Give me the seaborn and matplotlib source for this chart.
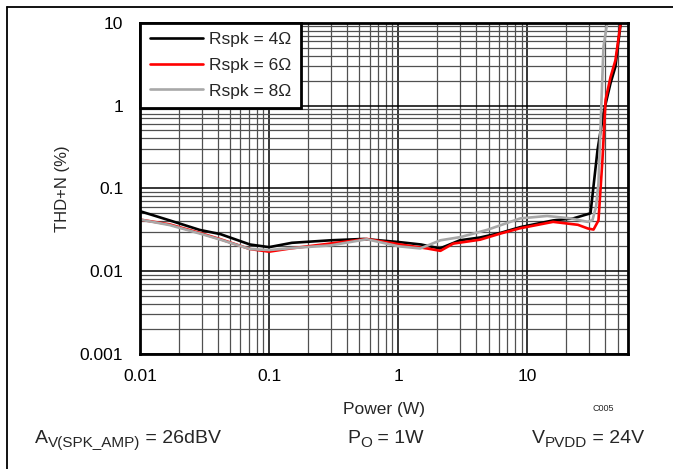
import numpy as np
import pandas as pd
import matplotlib
matplotlib.use("Agg")
import matplotlib.pyplot as plt
import matplotlib.ticker as mticker
from matplotlib.lines import Line2D
import seaborn as sns

# THD+N vs output power
power_4 = [0.01, 0.017, 0.029, 0.042, 0.071, 0.10, 0.15, 0.30, 0.54, 1.0, 1.5, 2.1,
           3.0, 4.3, 6.2, 8.8, 15.8, 22.7, 30.8, 34.9, 38.8, 44, 48, 53]
thd_4 = [0.053, 0.041, 0.0315, 0.028, 0.021, 0.0195, 0.022, 0.0236, 0.0245, 0.0225, 0.021, 0.0188,
         0.0236, 0.0255, 0.029, 0.034, 0.041, 0.0434, 0.050, 0.29, 0.81, 1.86, 2.94, 10.5]

power_6 = [0.01, 0.017, 0.029, 0.042, 0.071, 0.10, 0.146, 0.30, 0.57, 1.0, 1.67, 2.12, 2.66,
           4.3, 6.2, 8.8, 15.8, 24.6, 29.3, 32.5, 35.5, 38.1, 40.3, 44, 48, 53]
thd_6 = [0.042, 0.0367, 0.029, 0.0243, 0.0185, 0.0172, 0.0188, 0.0216, 0.0245, 0.0212, 0.0188, 0.0176, 0.0215,
         0.024, 0.0285, 0.033, 0.0394, 0.0363, 0.0328, 0.0318, 0.041, 0.22, 1.17, 2.2, 3.5, 10.5]

power_8 = [0.01, 0.017, 0.029, 0.042, 0.071, 0.10, 0.15, 0.30, 0.57, 1.0, 1.48, 2.12,
           3.03, 4.9, 8.8, 14.2, 21.6, 29.3, 31.9, 34.0, 35.5, 36.7, 38.8, 41.7]
thd_8 = [0.042, 0.036, 0.0285, 0.024, 0.0185, 0.018, 0.019, 0.0205, 0.0243, 0.020, 0.0188, 0.0236,
         0.0258, 0.0316, 0.0434, 0.0464, 0.0434, 0.0394, 0.0414, 0.06, 0.116, 0.464, 5.1, 10.5]

labels = ["Rspk = 4\u03a9", "Rspk = 6\u03a9", "Rspk = 8\u03a9"]
colors = ["#000000", "#ff0000", "#a8a8a8"]

x_ticks = [0.01, 0.1, 1, 10]
x_tick_labels = ["0.01", "0.1", "1", "10"]
y_ticks = [0.001, 0.01, 0.1, 1, 10]
y_tick_labels = ["0.001", "0.01", "0.1", "1", "10"]

df = pd.concat([
    pd.DataFrame({"power": power_4, "thd": thd_4, "load": labels[0]}),
    pd.DataFrame({"power": power_6, "thd": thd_6, "load": labels[1]}),
    pd.DataFrame({"power": power_8, "thd": thd_8, "load": labels[2]}),
])

sns.set_style("white")
plt.rcParams["font.family"] = ["Liberation Sans", "DejaVu Sans"]

fig = plt.figure(figsize=(6.73, 4.69), dpi=100)
ax = fig.add_axes([0.208, 0.2452, 0.725, 0.7064])

sns.lineplot(data=df, x="power", y="thd", hue="load", hue_order=labels,
             palette=colors, estimator=None, sort=False, linewidth=1.9, ax=ax, legend=False)

ax.set_xscale("log")
ax.set_yscale("log")
ax.set_xlim(0.01, 60)
ax.set_ylim(0.001, 10)

ax.xaxis.set_major_locator(mticker.FixedLocator(x_ticks))
ax.xaxis.set_major_formatter(mticker.FixedFormatter(x_tick_labels))
ax.yaxis.set_major_locator(mticker.FixedLocator(y_ticks))
ax.yaxis.set_major_formatter(mticker.FixedFormatter(y_tick_labels))
ax.xaxis.set_minor_locator(mticker.LogLocator(base=10, subs=np.arange(2, 10)))
ax.yaxis.set_minor_locator(mticker.LogLocator(base=10, subs=np.arange(2, 10)))
ax.xaxis.set_minor_formatter(mticker.NullFormatter())
ax.yaxis.set_minor_formatter(mticker.NullFormatter())

ax.grid(which="major", color="black", linewidth=1.1)
ax.grid(which="minor", color="#505050", linewidth=0.9)
ax.set_axisbelow(True)
ax.tick_params(which="both", length=0, labelsize=12.5, colors="black")
ax.tick_params(axis="y", pad=12)
ax.tick_params(axis="x", pad=11)
for s in ax.spines.values():
    s.set_color("black")
    s.set_linewidth(2)

ax.set_xlabel("Power (W)", fontsize=12.5, labelpad=13)
ax.set_ylabel("THD+N (%)", fontsize=12, labelpad=7)

handles = [Line2D([], [], color=c, linewidth=1.9) for c in colors]
leg = ax.legend(handles, labels, loc="upper left", fontsize=12.5, frameon=True, fancybox=False,
                borderaxespad=0, handlelength=3.1, handletextpad=0.35, labelspacing=0.6,
                borderpad=0.55, framealpha=1)
leg.get_frame().set_edgecolor("black")
leg.get_frame().set_linewidth(2)

fig.text(0.912, 0.13, "C005", fontsize=6.5, ha="right", va="center")


# notes under the chart: pieces of (text, size, baseline shift in px) laid out left to right
def rich_text(x_px, y_px, pieces):
    renderer = fig.canvas.get_renderer()
    w, h = fig.bbox.width, fig.bbox.height
    for txt, size, dy in pieces:
        t = fig.text(x_px / w, (y_px + dy) / h, txt, fontsize=size, ha="left", va="baseline")
        x_px = t.get_window_extent(renderer).x1


base_y = 26
rich_text(35, base_y, [("A", 14, 0), ("V(SPK_AMP)", 11, -4), (" = 26dBV", 14, 0)])
rich_text(347, base_y, [("P", 14, 0), ("O", 11, -4), (" = 1W", 14, 0)])
rich_text(532, base_y, [("V", 14, 0), ("PVDD", 11, -4), (" = 24V", 14, 0)])

# page frame lines
fig.add_artist(Line2D([0.0104, 1], [0.985, 0.985], color="black", linewidth=1.3, transform=fig.transFigure))
fig.add_artist(Line2D([0.0104, 0.0104], [0, 0.985], color="black", linewidth=1.3, transform=fig.transFigure))

fig.savefig("out.png", dpi=100)
